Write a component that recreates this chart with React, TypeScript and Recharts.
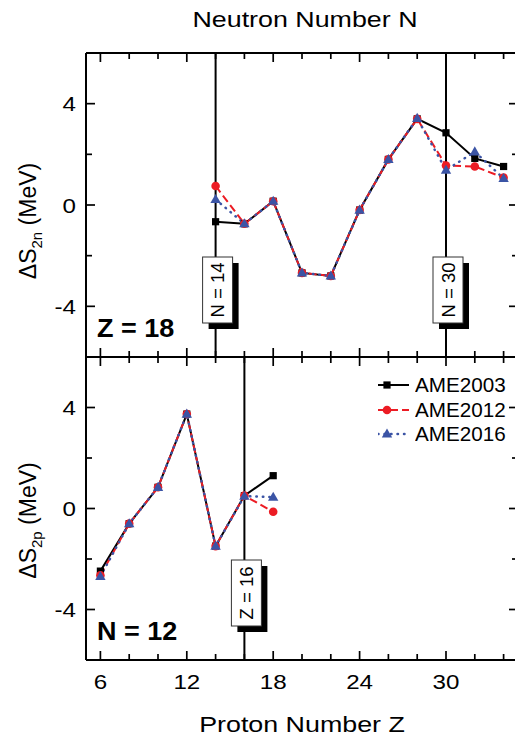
import React from 'react';
import { LineChart, Line, XAxis, YAxis, ReferenceLine, Legend } from 'recharts';

// ---------- data ----------
const neutronN = [14, 16, 18, 20, 22, 24, 26, 28, 30, 32, 34];
const s2nAME2003 = [-0.66, -0.74, 0.15, -2.68, -2.8, -0.2, 1.8, 3.4, 2.85, 1.84, 1.52];
const s2nAME2012 = [0.75, -0.74, 0.15, -2.68, -2.8, -0.2, 1.8, 3.4, 1.56, 1.52, 1.08];
const s2nAME2016 = [0.22, -0.74, 0.15, -2.68, -2.8, -0.2, 1.8, 3.42, 1.38, 2.1, 1.05];

const protonZ = [6, 8, 10, 12, 14, 16, 18];
const s2pAME2003 = [-2.48, -0.6, 0.84, 3.74, -1.49, 0.51, 1.3];
const s2pAME2012 = [-2.65, -0.6, 0.84, 3.74, -1.49, 0.51, -0.13];
const s2pAME2016 = [-2.69, -0.6, 0.84, 3.74, -1.49, 0.49, 0.45];

const xMajorTicks = [6, 12, 18, 24, 30];
const xMinorTicks = [8, 10, 14, 16, 20, 22, 26, 28, 32, 34];
const yMajorTicks = [-4, 0, 4];
const yMinorTicks = [-2, 2];
const xDomain = [5, 35];
const yDomain = [-6, 6];

const topMarkers = [
  { x: 14, label: 'N = 14' },
  { x: 30, label: 'N = 30' },
];
const bottomMarkers = [{ x: 16, label: 'Z = 16' }];

const SERIES = [
  { key: 'a03', name: 'AME2003', color: '#000000', dash: undefined as string | undefined, width: 2, shape: 'square', cap: 'butt' },
  { key: 'a12', name: 'AME2012', color: '#ec1c24', dash: '8 4', width: 2, shape: 'circle', cap: 'butt' },
  { key: 'a16', name: 'AME2016', color: '#3b54a5', dash: '0.5 6', width: 2.5, shape: 'triangle', cap: 'round' },
];

const topData = neutronN.map((n, i) => ({ x: n, a03: s2nAME2003[i], a12: s2nAME2012[i], a16: s2nAME2016[i] }));
const bottomData = protonZ.map((z, i) => ({ x: z, a03: s2pAME2003[i], a12: s2pAME2012[i], a16: s2pAME2016[i] }));

const FONT = '"Liberation Sans", Arial, Helvetica, sans-serif';

// ---------- layout ----------
const CHART_W = 530;
const MARGIN_L = 26;
const YAXIS_W = 60;
const MARGIN_R = 11;
const PLOT_L = MARGIN_L + YAXIS_W;
const PLOT_R = CHART_W - MARGIN_R - 1;

// ---------- helpers ----------
const SText = ({ x, y, sx = 1, size, anchor = 'start', weight = 'normal', children }: any) => (
  <text
    transform={`translate(${x},${y}) scale(${sx},1)`}
    x={0}
    y={0}
    textAnchor={anchor}
    fontSize={size}
    fontWeight={weight}
    fontFamily={FONT}
    fill="#000"
  >
    {children}
  </text>
);

const Marker = ({ cx, cy, shape, color }: any) => {
  if (cx == null || cy == null) return null;
  if (shape === 'square') return <rect x={cx - 3.6} y={cy - 3.6} width={7.2} height={7.2} fill={color} />;
  if (shape === 'circle') return <circle cx={cx} cy={cy} r={4.3} fill={color} />;
  return <path d={`M${cx},${cy - 5.5} L${cx + 5.2},${cy + 3.6} L${cx - 5.2},${cy + 3.6} Z`} fill={color} />;
};

// inward tick marks on all four sides of the frame
const FrameTicks = ({ pt, pb }: any) => {
  const sx = (v: number) => PLOT_L + ((v - xDomain[0]) / (xDomain[1] - xDomain[0])) * (PLOT_R - PLOT_L);
  const sy = (v: number) => pb - ((v - yDomain[0]) / (yDomain[1] - yDomain[0])) * (pb - pt);
  const segs: any[] = [];
  const addX = (v: number, len: number) => {
    segs.push([sx(v), pb, sx(v), pb - len]);
    segs.push([sx(v), pt, sx(v), pt + len]);
  };
  const addY = (v: number, len: number) => {
    segs.push([PLOT_L, sy(v), PLOT_L + len, sy(v)]);
    segs.push([PLOT_R, sy(v), PLOT_R - len, sy(v)]);
  };
  xMajorTicks.forEach((v) => addX(v, 9));
  xMinorTicks.forEach((v) => addX(v, 6));
  yMajorTicks.forEach((v) => addY(v, 9));
  yMinorTicks.forEach((v) => addY(v, 6));
  return (
    <g>
      {segs.map((s, i) => (
        <line key={i} x1={s[0]} y1={s[1]} x2={s[2]} y2={s[3]} stroke="#000" strokeWidth={1.7} />
      ))}
    </g>
  );
};

const BottomLabel = ({ x, y, payload, showLabel }: any) =>
  showLabel ? <SText x={x} y={y + 29} sx={1.15} size={21} anchor="middle">{payload.value}</SText> : <g />;

const LeftLabel = ({ x, y, payload }: any) => (
  <SText x={x - 10} y={y + 7.5} sx={1.15} size={21} anchor="end">{payload.value}</SText>
);

const BoxLabel = ({ viewBox, text }: any) => {
  if (!viewBox) return null;
  const lx = viewBox.x;
  const bottom = viewBox.y + viewBox.height;
  const w = 30;
  const h = 66;
  const top = bottom - 34 - h;
  const left = lx - 13;
  return (
    <g>
      <rect x={left + 6} y={top + 6} width={w} height={h} fill="#000" />
      <rect x={left} y={top} width={w} height={h} fill="#fff" stroke="#333" strokeWidth={1} />
      <text
        transform={`translate(${left + w / 2 + 6.5},${top + h / 2}) rotate(-90)`}
        textAnchor="middle"
        fontSize={18.5}
        fontFamily={FONT}
        fill="#000"
      >
        {text}
      </text>
    </g>
  );
};

const YTitle = ({ viewBox, sub, centerShift }: any) => {
  if (!viewBox) return null;
  const cx = viewBox.x + 10;
  const cy = viewBox.y + viewBox.height / 2 + centerShift;
  return (
    <text
      transform={`translate(${cx},${cy}) rotate(-90)`}
      textAnchor="middle"
      fontSize={23}
      fontFamily={FONT}
      fill="#000"
    >
      {'\u0394S'}
      <tspan fontSize={15} dy={6}>{sub}</tspan>
      <tspan dy={-6}>{' (MeV)'}</tspan>
    </text>
  );
};

const XTitleTop = ({ viewBox, text }: any) => {
  if (!viewBox) return null;
  return <SText x={viewBox.x + viewBox.width / 2 + 3} y={viewBox.y + viewBox.height - 26} sx={1.22} size={22} anchor="middle">{text}</SText>;
};

const XTitleBottom = ({ viewBox, text }: any) => {
  if (!viewBox) return null;
  return <SText x={viewBox.x + viewBox.width / 2} y={viewBox.y + 72} sx={1.22} size={22} anchor="middle">{text}</SText>;
};

const LegendContent = ({ payload }: any) => (
  <div style={{ fontFamily: FONT, fontSize: 19.5, lineHeight: '24.5px' }}>
    {(payload || []).map((entry: any) => {
      const s = SERIES.find((q) => q.name === entry.value);
      if (!s) return null;
      return (
        <div key={s.key} style={{ display: 'flex', alignItems: 'center', height: 24.5 }}>
          <svg width={37} height={20} style={{ display: 'block' }}>
            <line x1={0} x2={31} y1={10} y2={10} stroke={s.color} strokeWidth={s.width} strokeDasharray={s.dash} strokeLinecap={s.cap as any} />
            <Marker cx={9} cy={10} shape={s.shape} color={s.color} />
          </svg>
          <span style={{ display: 'inline-block', transform: 'scaleX(1.06)', transformOrigin: 'left center', whiteSpace: 'nowrap' }}>
            {entry.value}
          </span>
        </div>
      );
    })}
  </div>
);

const renderSeries = () =>
  SERIES.map((s) => (
    <Line
      key={s.key}
      dataKey={s.key}
      name={s.name}
      type="linear"
      stroke={s.color}
      strokeWidth={s.width}
      strokeDasharray={s.dash}
      strokeLinecap={s.cap as any}
      isAnimationActive={false}
      activeDot={false}
      dot={(p: any) => <Marker key={`${s.key}-${p.index}`} cx={p.cx} cy={p.cy} shape={s.shape} color={s.color} />}
    />
  ));

const axisLine = { stroke: '#000', strokeWidth: 2 };

const Panel = ({ data, markers, sub, top, showX, panelText, withLegend, titleShift }: any) => {
  const height = top ? 370 : 394;
  const margin = top
    ? { top: 52, right: MARGIN_R, bottom: 12, left: MARGIN_L }
    : { top: 12, right: MARGIN_R, bottom: 77, left: MARGIN_L };
  const plotTop = margin.top + 1;
  const plotBottom = height - margin.bottom - 1;
  const common = { type: 'number' as const, interval: 0 as const, allowDataOverflow: true, tickSize: 0, tickMargin: 0, tickLine: false };
  return (
    <LineChart width={CHART_W} height={height} data={data} margin={margin}>
      <XAxis
        {...common}
        xAxisId={0}
        dataKey="x"
        domain={xDomain}
        ticks={xMajorTicks}
        height={1}
        axisLine={axisLine}
        tick={(p: any) => <BottomLabel {...p} showLabel={showX} />}
        label={showX ? (p: any) => <XTitleBottom viewBox={p.viewBox} text="Proton Number Z" /> : undefined}
      />
      <XAxis
        {...common}
        xAxisId="top"
        orientation="top"
        domain={xDomain}
        ticks={xMajorTicks}
        height={1}
        axisLine={axisLine}
        tick={false}
        label={top ? (p: any) => <XTitleTop viewBox={p.viewBox} text="Neutron Number N" /> : undefined}
      />
      <YAxis
        {...common}
        yAxisId={0}
        domain={yDomain}
        ticks={yMajorTicks}
        width={YAXIS_W}
        axisLine={axisLine}
        tick={(p: any) => <LeftLabel {...p} />}
        label={(p: any) => <YTitle viewBox={p.viewBox} sub={sub} centerShift={titleShift} />}
      />
      <YAxis
        {...common}
        yAxisId="right"
        orientation="right"
        domain={yDomain}
        ticks={yMajorTicks}
        width={1}
        axisLine={axisLine}
        tick={false}
      />
      {markers.map((m: any) => (
        <ReferenceLine
          key={m.label}
          x={m.x}
          stroke="#000"
          strokeWidth={2}
          label={(p: any) => <BoxLabel viewBox={p.viewBox} text={m.label} />}
        />
      ))}
      {renderSeries()}
      {withLegend ? (
        <Legend
          layout="vertical"
          align="center"
          verticalAlign="middle"
          wrapperStyle={{ left: 378, top: 29, width: 140 }}
          content={(p: any) => <LegendContent payload={p.payload} />}
        />
      ) : null}
      <FrameTicks pt={plotTop} pb={plotBottom} />
      <SText x={97} y={plotBottom - 20} sx={1.08} size={25} weight="bold">{panelText}</SText>
    </LineChart>
  );
};

export default function App() {
  return (
    <div style={{ position: 'absolute', left: 0, top: 0, width: 515, height: 738, overflow: 'hidden', background: '#fff', fontFamily: FONT }}>
      <div style={{ position: 'absolute', left: 0, top: 0 }}>
        <Panel data={topData} markers={topMarkers} sub="2n" top showX={false} panelText="Z = 18" withLegend={false} titleShift={16} />
      </div>
      <div style={{ position: 'absolute', left: 0, top: 344 }}>
        <Panel data={bottomData} markers={bottomMarkers} sub="2p" top={false} showX panelText="N = 12" withLegend titleShift={12} />
      </div>
    </div>
  );
}
